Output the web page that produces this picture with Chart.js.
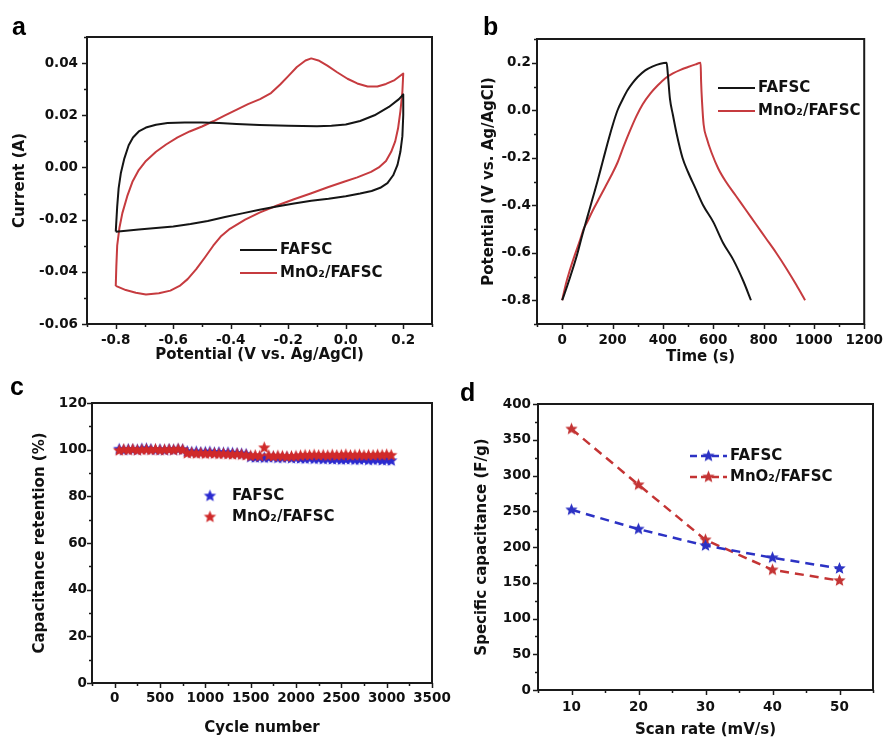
<!DOCTYPE html>
<html>
<head>
<meta charset="utf-8">
<script src="https://cdn.jsdelivr.net/npm/chart.js@4/dist/chart.umd.min.js"></script>
<style>
html,body{margin:0;padding:0;background:#fff;overflow:hidden;width:891px;height:740px;}
canvas{position:absolute;}
</style>
</head>
<body>
<canvas id="ca" width="445" height="370" style="left:0;top:0"></canvas>
<canvas id="cb" width="446" height="370" style="left:445px;top:0"></canvas>
<canvas id="cc" width="470" height="370" style="left:0;top:370px"></canvas>
<canvas id="cd" width="446" height="370" style="left:445px;top:370px"></canvas>
<script>
// ---------- DATA ----------
const seriesNames = ['FAFSC', 'MnO₂/FAFSC'];

// Panel a: cyclic voltammograms (potential V, current A)
const cvFafscPotential = [-0.800,-0.795,-0.790,-0.782,-0.770,-0.755,-0.740,-0.720,-0.695,-0.660,-0.620,-0.560,-0.500,-0.440,-0.380,-0.300,-0.200,-0.100,-0.050,0.000,0.050,0.100,0.150,0.185,0.200,
  0.200,0.197,0.190,0.180,0.165,0.145,0.120,0.090,0.050,0.000,-0.060,-0.120,-0.180,-0.240,-0.300,-0.360,-0.420,-0.480,-0.540,-0.600,-0.660,-0.720,-0.800];
const cvFafscCurrent = [-0.0246,-0.0150,-0.0080,-0.0020,0.0035,0.0085,0.0115,0.0138,0.0153,0.0164,0.0170,0.0172,0.0172,0.0170,0.0167,0.0163,0.0160,0.0158,0.0160,0.0165,0.0178,0.0200,0.0232,0.0262,0.0280,
  0.0200,0.0120,0.0060,0.0010,-0.0030,-0.0060,-0.0078,-0.0090,-0.0100,-0.0110,-0.0120,-0.0128,-0.0138,-0.0150,-0.0162,-0.0176,-0.0190,-0.0205,-0.0217,-0.0226,-0.0232,-0.0238,-0.0246];
const cvMnO2Potential = [-0.800,-0.798,-0.795,-0.787,-0.777,-0.760,-0.742,-0.720,-0.695,-0.660,-0.625,-0.585,-0.543,-0.500,-0.461,-0.420,-0.379,-0.340,-0.298,-0.260,-0.228,-0.200,-0.170,-0.140,-0.120,-0.095,-0.064,-0.030,0.006,0.040,0.076,0.110,0.140,0.170,0.200,
  0.197,0.190,0.182,0.172,0.158,0.140,0.115,0.088,0.040,-0.006,-0.060,-0.122,-0.180,-0.239,-0.298,-0.350,-0.403,-0.435,-0.461,-0.490,-0.520,-0.550,-0.578,-0.610,-0.650,-0.695,-0.730,-0.765,-0.800];
const cvMnO2Current = [-0.0454,-0.0380,-0.0300,-0.0230,-0.0175,-0.0110,-0.0055,-0.0010,0.0025,0.0060,0.0088,0.0115,0.0138,0.0157,0.0177,0.0200,0.0222,0.0243,0.0262,0.0285,0.0318,0.0350,0.0385,0.0410,0.0418,0.0410,0.0390,0.0365,0.0340,0.0322,0.0310,0.0310,0.0320,0.0335,0.0360,
  0.0290,0.0215,0.0150,0.0100,0.0060,0.0025,0.0000,-0.0017,-0.0038,-0.0055,-0.0075,-0.0100,-0.0122,-0.0146,-0.0172,-0.0200,-0.0235,-0.0265,-0.0300,-0.0345,-0.0390,-0.0428,-0.0454,-0.0472,-0.0482,-0.0487,-0.0480,-0.0470,-0.0454];

// Panel b: galvanostatic charge/discharge (time s, potential V)
const gcdFafscTime = [0,20,40,60,80,100,120,140,160,180,200,220,240,260,280,300,330,360,390,415,420,428,440,455,478,500,530,560,600,640,680,720,750];
const gcdFafscPotential = [-0.800,-0.740,-0.675,-0.605,-0.525,-0.450,-0.375,-0.300,-0.220,-0.140,-0.065,0.000,0.045,0.085,0.115,0.140,0.168,0.185,0.196,0.200,0.150,0.050,-0.020,-0.100,-0.200,-0.260,-0.330,-0.400,-0.470,-0.560,-0.630,-0.720,-0.800];
const gcdMnO2Time = [0,15,30,50,70,85,100,120,145,170,195,220,245,270,295,320,350,380,410,440,470,500,530,550,552,556,562,575,594,620,650,690,730,770,810,850,890,930,965];
const gcdMnO2Potential = [-0.800,-0.730,-0.675,-0.610,-0.550,-0.500,-0.470,-0.425,-0.375,-0.325,-0.275,-0.220,-0.150,-0.085,-0.025,0.025,0.070,0.105,0.135,0.155,0.170,0.182,0.193,0.200,0.120,0.030,-0.060,-0.120,-0.180,-0.245,-0.300,-0.360,-0.420,-0.480,-0.540,-0.600,-0.665,-0.735,-0.800];

// Panel c: cycling stability (cycle number, retention %)
const cycleNumbers = [50,100,150,200,250,300,350,400,450,500,550,600,650,700,750,
  800,850,900,950,1000,1050,1100,1150,1200,1250,1300,1350,1400,1450,
  1500,1550,1600,1650,1700,1750,1800,1850,1900,1950,2000,
  2050,2100,2150,2200,2250,2300,2350,2400,2450,2500,2550,2600,2650,2700,2750,2800,2850,2900,2950,3000,3050];
const retentionFafsc = [100.2,99.8,100.1,100.0,99.9,100.3,100.4,100.1,99.9,100.0,99.8,100.1,99.9,100.2,100.0,
  99.2,98.9,99.1,98.8,98.9,99.0,98.7,98.8,98.6,98.7,98.5,98.4,98.2,98.0,
  96.8,96.6,96.7,96.5,96.6,96.8,96.4,96.5,96.6,96.3,96.4,
  96.2,96.1,96.3,96.0,96.1,95.9,96.0,95.8,95.9,95.7,95.8,95.9,95.6,95.7,95.8,95.5,95.6,95.7,95.4,95.5,95.3];
const retentionMnO2 = [99.6,100.0,99.8,100.1,99.7,99.9,100.0,99.8,100.1,99.7,99.9,100.0,99.8,100.2,99.9,
  98.4,98.6,98.3,98.5,98.2,98.4,98.3,98.1,98.2,98.0,97.9,98.1,97.8,97.6,
  97.3,97.5,97.2,100.8,97.4,97.1,97.3,97.2,97.0,97.1,97.2,
  97.4,97.6,97.5,97.7,97.5,97.6,97.4,97.7,97.5,97.6,97.8,97.5,97.6,97.7,97.4,97.6,97.5,97.7,97.6,97.8,97.6];

// Panel d: specific capacitance vs scan rate
const scanRates = [10,20,30,40,50];
const capFafsc = [252,225,202,185,170];
const capMnO2 = [365,287,210,168,153];

// ---------- HELPERS ----------
const FONT = '"DejaVu Sans", sans-serif';
const pts = (xs, ys) => xs.map((x, i) => ({x, y: ys[i]}));
const clean = v => (Math.abs(v) < 1e-9 ? 0 : v);

function starImg(color, r) {
  const s = Math.ceil(r * 2 + 2);
  const c = document.createElement('canvas');
  c.width = s; c.height = s;
  const g = c.getContext('2d');
  g.fillStyle = color;
  g.beginPath();
  for (let i = 0; i < 10; i++) {
    const a = -Math.PI / 2 + i * Math.PI / 5;
    const rr = (i % 2) ? r * 0.45 : r;
    g.lineTo(s / 2 + rr * Math.cos(a), s / 2 + rr * Math.sin(a));
  }
  g.closePath();
  g.fill();
  return c;
}

const framePlugin = {
  id: 'frame',
  afterDraw(chart) {
    const {ctx, chartArea: {left, top, right, bottom}} = chart;
    ctx.save();
    ctx.strokeStyle = '#1a1a1a';
    ctx.lineWidth = 1.5;
    for (const id of ['x', 'y']) {
      const s = chart.scales[id];
      s.ticks.forEach(t => {
        const major = t.label !== '' && t.label !== undefined;
        const len = major ? 5 : 3;
        const p = Math.round(s.getPixelForValue(t.value)) + 0.5;
        ctx.beginPath();
        if (id === 'x') { ctx.moveTo(p, bottom); ctx.lineTo(p, bottom + len); }
        else { ctx.moveTo(left, p); ctx.lineTo(left - len, p); }
        ctx.stroke();
      });
    }
    ctx.lineWidth = 2;
    ctx.strokeRect(left, top, right - left, bottom - top);
    ctx.restore();
  }
};

const legendPlugin = {
  id: 'inlegend',
  afterDraw(chart, args, o) {
    const ctx = chart.ctx;
    ctx.save();
    chart.data.datasets.forEach((ds, i) => {
      const y = o.y + i * o.dy;
      if (o.line) {
        ctx.beginPath();
        ctx.strokeStyle = ds.borderColor;
        ctx.lineWidth = ds.borderWidth || 2;
        ctx.setLineDash(o.dash || []);
        ctx.moveTo(o.x, y); ctx.lineTo(o.x + o.len, y);
        ctx.stroke();
        ctx.setLineDash([]);
      }
      if (o.marker && ds.pointStyle && ds.pointStyle.width) {
        const im = ds.pointStyle;
        ctx.drawImage(im, o.x + o.len / 2 - im.width / 2, y - im.height / 2);
      }
      ctx.fillStyle = '#111';
      ctx.font = 'bold 15px ' + FONT;
      ctx.textBaseline = 'middle';
      ctx.textAlign = 'left';
      ctx.fillText(ds.label, o.x + o.len + o.gap, y);
    });
    ctx.restore();
  }
};

const letterPlugin = {
  id: 'letter',
  afterDraw(chart, args, o) {
    const ctx = chart.ctx;
    ctx.save();
    ctx.fillStyle = '#000';
    ctx.font = 'bold 25px "Liberation Sans", Arial, sans-serif';
    ctx.textBaseline = 'alphabetic';
    ctx.textAlign = 'left';
    ctx.fillText(o.text, o.x, o.y);
    ctx.restore();
  }
};

function scale({min, max, step, isMajor, fmt, title, titlePad, tickPad, size, horiz}) {
  return {
    type: 'linear', min, max,
    border: {display: false},
    grid: {display: false, drawTicks: false},
    ticks: {
      stepSize: step, autoSkip: false, maxRotation: 0, padding: tickPad,
      color: '#111', font: {family: FONT, weight: 'bold', size: 13.5},
      callback: (v) => isMajor(v) ? fmt(clean(v)) : ''
    },
    title: {
      display: true, text: title, color: '#111',
      font: {family: FONT, weight: 'bold', size: 15},
      padding: horiz ? {top: 0, bottom: titlePad} : {top: titlePad, bottom: 0}
    },
    afterFit: (s) => { if (horiz) s.height = size; else s.width = size; }
  };
}
const mult = (step) => (v) => Math.abs(v / step - Math.round(v / step)) < 1e-6;

function make(id, cfg) {
  return new Chart(document.getElementById(id), {
    type: 'scatter',
    data: {datasets: cfg.datasets},
    plugins: [framePlugin, legendPlugin, letterPlugin],
    options: {
      responsive: false, animation: false, devicePixelRatio: 1, events: [],
      layout: {padding: cfg.padding},
      scales: {x: cfg.x, y: cfg.y},
      plugins: {legend: {display: false}, tooltip: {enabled: false},
        inlegend: cfg.legend, letter: cfg.letter}
    }
  });
}

const RED = '#c63b3f';
const BLACK = '#151515';

// ---------- PANEL a ----------
make('ca', {
  padding: {top: 37, right: 13, left: 0, bottom: 0},
  datasets: [
    {label: seriesNames[0], data: pts(cvFafscPotential, cvFafscCurrent), showLine: true, borderColor: BLACK, borderWidth: 2, pointRadius: 0, tension: 0, borderJoinStyle: 'round'},
    {label: seriesNames[1], data: pts(cvMnO2Potential, cvMnO2Current), showLine: true, borderColor: RED, borderWidth: 2, pointRadius: 0, tension: 0, borderJoinStyle: 'round'}
  ],
  x: scale({min: -0.9, max: 0.3, step: 0.1, isMajor: v => mult(0.2)(v + 0.8) && v > -0.85 && v < 0.25, fmt: v => v.toFixed(1), title: 'Potential (V vs. Ag/AgCl)', titlePad: 6, tickPad: 8, size: 46, horiz: true}),
  y: scale({min: -0.06, max: 0.05, step: 0.01, isMajor: v => mult(0.02)(v) && v < 0.045, fmt: v => v.toFixed(2), title: 'Current (A)', titlePad: 11, tickPad: 9, size: 87}),
  legend: {x: 240, y: 250, dy: 23, len: 37, gap: 3, line: true},
  letter: {text: 'a', x: 12, y: 35}
});

// ---------- PANEL b ----------
make('cb', {
  padding: {top: 39, right: 22, left: 0, bottom: 0},
  datasets: [
    {label: seriesNames[0], data: pts(gcdFafscTime, gcdFafscPotential), showLine: true, borderColor: BLACK, borderWidth: 2, pointRadius: 0, cubicInterpolationMode: 'monotone', borderJoinStyle: 'round'},
    {label: seriesNames[1], data: pts(gcdMnO2Time, gcdMnO2Potential), showLine: true, borderColor: RED, borderWidth: 2, pointRadius: 0, cubicInterpolationMode: 'monotone', borderJoinStyle: 'round'}
  ],
  x: scale({min: -100, max: 1200, step: 100, isMajor: v => mult(200)(v) && v >= 0, fmt: v => String(v), title: 'Time (s)', titlePad: 4, tickPad: 8, size: 46, horiz: true}),
  y: scale({min: -0.9, max: 0.3, step: 0.1, isMajor: v => mult(0.2)(v) && v > -0.85 && v < 0.25, fmt: v => v.toFixed(1), title: 'Potential (V vs. Ag/AgCl)', titlePad: 35, tickPad: 6, size: 92}),
  legend: {x: 273, y: 88, dy: 23, len: 37, gap: 3, line: true},
  letter: {text: 'b', x: 38, y: 35}
});

// ---------- PANEL c ----------
const starBlueC = starImg('#2a2ad0', 6.5);
const starRedC = starImg('#d02a2a', 6.5);
make('cc', {
  padding: {top: 33, right: 38, left: 0, bottom: 0},
  datasets: [
    {label: seriesNames[0], data: pts(cycleNumbers, retentionFafsc), showLine: false, pointStyle: starBlueC, pointRadius: 6, order: 1},
    {label: seriesNames[1], data: pts(cycleNumbers, retentionMnO2), showLine: false, pointStyle: starRedC, pointRadius: 6, order: 0}
  ],
  x: scale({min: -250, max: 3500, step: 250, isMajor: v => mult(500)(v) && v >= 0, fmt: v => String(v), title: 'Cycle number', titlePad: 3, tickPad: 7, size: 57, horiz: true}),
  y: scale({min: 0, max: 120, step: 10, isMajor: v => mult(20)(v), fmt: v => String(v), title: 'Capacitance retention (%)', titlePad: 31, tickPad: 5, size: 92}),
  legend: {x: 204, y: 126, dy: 21, len: 12, gap: 16, marker: true},
  letter: {text: 'c', x: 10, y: 25}
});

// ---------- PANEL d ----------
const starBlueD = starImg('#2c32c4', 6.5);
const starRedD = starImg('#c43434', 6.5);
make('cd', {
  padding: {top: 34, right: 18, left: 0, bottom: 0},
  datasets: [
    {label: seriesNames[0], data: pts(scanRates, capFafsc), showLine: true, borderColor: '#2c32c4', borderWidth: 2.5, borderDash: [9, 6], pointStyle: starBlueD, pointRadius: 6},
    {label: seriesNames[1], data: pts(scanRates, capMnO2), showLine: true, borderColor: '#c43434', borderWidth: 2.5, borderDash: [9, 6], pointStyle: starRedD, pointRadius: 6}
  ],
  x: scale({min: 5, max: 55, step: 5, isMajor: v => mult(10)(v) && v >= 10 && v <= 50, fmt: v => String(v), title: 'Scan rate (mV/s)', titlePad: 1, tickPad: 9, size: 50, horiz: true}),
  y: scale({min: 0, max: 400, step: 25, isMajor: v => mult(50)(v), fmt: v => String(v), title: 'Specific capacitance (F/g)', titlePad: 28, tickPad: 7, size: 93}),
  legend: {x: 245, y: 86, dy: 21, len: 37, gap: 3, line: true, marker: true, dash: [7, 4]},
  letter: {text: 'd', x: 15, y: 31}
});
</script>
</body>
</html>
